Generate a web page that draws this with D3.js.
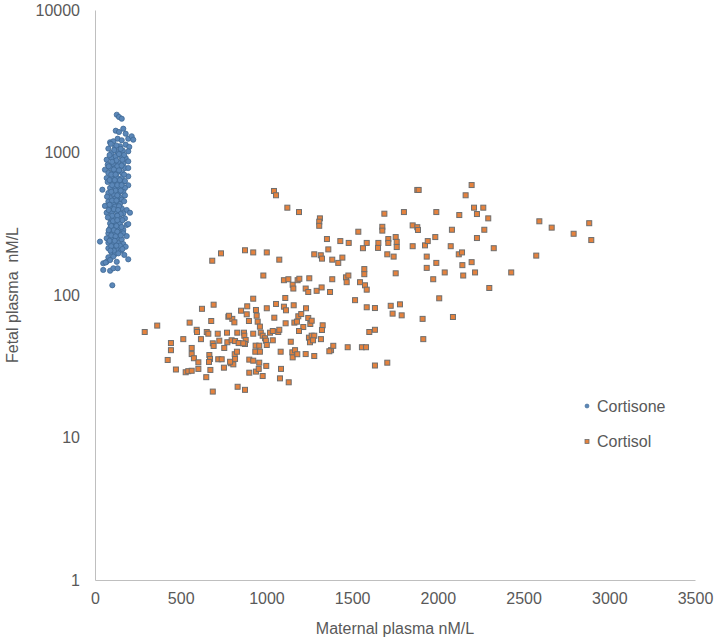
<!DOCTYPE html>
<html>
<head>
<meta charset="utf-8">
<script src="https://cdn.jsdelivr.net/npm/d3@7"></script>
<style>
  body { margin: 0; background: #fff; }
  text { font-family: "Liberation Sans", Arial, sans-serif; }
</style>
</head>
<body>
<div class="chart"></div>
<script>
// cortisone (blue circles)
const cortisoneX = [127,140,156,121,140,165,179,194,214,223,88,107,132,156,78,117,146,179,200,97,
  132,162,194,68,97,121,152,179,194,74,107,136,165,58,88,117,146,175,194,78,
  107,132,159,68,97,127,156,194,194,74,101,132,165,43,88,117,146,175,78,107,
  136,165,88,117,146,156,
  78,107,132,146,58,88,117,156,185,204,68,97,127,165,88,117,146,175,88,117,
  146,185,194,88,117,140,165,78,107,136,165,185,68,97,127,156,29,78,107,136,
  165,179,78,107,136,152,97,117,136,171,78,107,127,194,68,88,48,62,48,88,
  107,132,101,
  92,125,150,112,85,140,170,125,100,160,80,130,155,110,140,95,120,170,85,145,
  115,175,100,130,155,120,95,150,175,70,130,100,125,170,85,140,110,135,80,150,
  100,130,75,160,105,130,95,125,155,110,80,130,150,95,120,85,115,145,95,125,
  110,160,90];
const cortisoneY = [1841,1775,1726,1422,1393,1469,1355,1250,1300,1230,1180,1199,1250,1218,1065,1089,1106,1135,1094,991,
  1009,1031,1019,890,914,940,940,914,867,821,830,857,843,757,778,778,787,778,778,718,
  718,729,718,662,673,670,662,680,589,621,621,611,621,548,564,570,564,564,520,512,
  520,528,480,474,485,467,
  452,440,452,436,422,413,417,406,395,378,378,378,384,374,345,351,345,345,318,321,
  318,310,315,294,299,289,286,271,274,268,271,259,250,252,250,246,237,233,233,231,
  228,218,213,213,209,205,198,194,196,191,184,186,171,178,171,176,167,169,150,148,
  154,154,117,
  1150,1120,1060,1040,960,975,960,880,860,890,800,800,810,760,750,700,700,700,640,640,
  640,630,590,590,590,540,530,540,500,490,500,460,460,455,430,420,400,395,395,370,
  360,360,350,335,330,335,305,305,300,285,285,278,262,262,258,240,240,222,220,222,
  205,210,205];

// cortisol (orange squares)
const cortisolX = [1044,1056,1122,1190,1312,1308,1308,1880,1888,1688,
  1802,1536,1676,1676,1853,1880,1884,1353,1431,1480,
  1585,1563,1653,1651,1711,1711,1754,1760,1760,1853,
  1925,1941,684,735,875,923,1002,1075,1279,1317,
  1324,1361,1384,1419,1443,1705,1742,1935,1935,982,
  1102,1128,1153,1157,1182,1192,1250,1229,1244,1293,
  1322,1371,1384,1464,1478,1468,1571,1571,1546,1575,
  1585,1754,1517,1585,1633,1725,1779,1736,1789,1911,
  1915,1600,1633,1557,1581,1633,1705,1474,1377,1390,
  290,363,443,443,424,472,515,552,529,544,
  564,564,564,577,603,603,593,595,624,618,
  652,661,649,673,667,671,665,687,692,692,
  678,687,716,725,719,739,752,754,770,772,
  778,801,813,792,807,815,828,817,797,817,
  838,830,832,875,852,885,888,869,871,879,
  875,898,900,923,900,923,923,939,943,939,
  955,949,937,958,935,962,958,967,978,992,
  997,978,999,1002,1002,1021,1037,1037,1046,1056,
  1069,1075,1083,1085,1079,1102,1114,1110,1112,1130,
  1142,1151,1153,1167,1159,1163,1178,1186,1203,1215,
  1231,1244,1256,1264,1229,1279,1248,1264,1279,1254,
  1272,1318,1328,1324,
  2197,2162,1991,2125,2211,2265,2228,2294,2082,2271,
  1985,2228,2075,2122,2141,2326,1991,2143,2197,2040,
  2148,2217,1973,2428,2300,2008,2088,2592,2664,2792,
  2883,2895,2574,
  962,1190,782,1180,788,865,1367];
const cortisolY = [537,501,410,382,345,327,306,546,546,372,
  382,278,301,283,308,299,286,247,239,232,
  232,213,232,214,247,232,255,236,217,220,
  223,239,174,196,206,199,199,177,193,190,
  180,209,177,168,183,193,186,186,155,137,
  127,129,118,111,127,130,131,111,105,107,
  113,105,129,133,137,123,152,140,123,117,
  109,142,92,82,81,84,86,74,72,68,
  49,55,57,43,43,32,33.5,43,41,44,
  55,61,46,41,35,30,49,64,28.7,29.2,
  29.4,42.5,38.5,36,33.7,30.3,57,55,80,49,
  55,53.5,26.5,29.8,37.9,35.6,33.9,45.8,43.9,85.5,
  65.7,21,53.5,47.8,35.4,35.4,30.9,42.5,54.4,46.6,
  70.4,68,64.3,33.2,32.6,38.4,40,35.6,48.1,47.5,
  46,54.4,22.7,21.6,77.6,73.2,83.3,54.4,51.8,48.3,
  45.3,65.7,35.2,34.6,28.5,94.2,53.5,78.5,71.6,29,
  30.3,65,44.1,44.1,40,40,33.5,54.4,51.8,49.7,
  47.8,27,31.8,80.7,44.6,54.4,55.9,48.1,69.3,86.5,
  55,57,40,30.3,26,82.8,78.1,95.3,63.3,24.4,
  47,39.6,36.5,41,84.7,64,65,70.9,73.5,59.6,
  80.7,69,62.6,66,38.5,37.3,50.2,51.8,51.8,46.6,
  48.1,49,61.3,56.8,
  591,501,382,364,410,410,370,345,287,287,
  255,251,220,193,199,213,168,162,170,144,
  137,144,129,144,112,94.8,70.1,329,297,269,
  319,243,189,
  60,55.9,71.5,38.4,34,45.8,40.3];

const xTicks = [0,500,1000,1500,2000,2500,3000,3500];
const yTicks = [1,10,100,1000,10000];
const seriesNames = ['Cortisone','Cortisol'];

const width = 715, height = 638;
const margin = {left: 95, right: 20, top: 10, bottom: 58};

const svg = d3.select('.chart').append('svg')
  .attr('width', width)
  .attr('height', height);

const x = d3.scaleLinear().domain([0,3500]).range([margin.left, width - margin.right]);
const y = d3.scaleLog().domain([1,10000]).range([height - margin.bottom, margin.top]);

const textColor = '#595959';
const axisColor = '#bfbfbf';

// axes
const xAxis = svg.append('g')
  .attr('transform', `translate(0,${y(1)})`)
  .call(d3.axisBottom(x).tickValues(xTicks).tickSize(0).tickPadding(13).tickFormat(d3.format('d')));
const yAxis = svg.append('g')
  .attr('transform', `translate(${x(0)},0)`)
  .call(d3.axisLeft(y).tickValues(yTicks).tickSize(0).tickPadding(15).tickFormat(d3.format('d')));

[xAxis, yAxis].forEach(g => {
  g.select('.domain').attr('stroke', axisColor).attr('stroke-width', 1);
  g.selectAll('text').attr('fill', textColor).style('font-size', '16px')
    .style('font-family', '"Liberation Sans", Arial, sans-serif');
});

// axis titles
svg.append('text')
  .attr('x', (x(0) + x(3500)) / 2)
  .attr('y', 634)
  .attr('text-anchor', 'middle')
  .attr('fill', textColor)
  .style('font-size', '16px')
  .text('Maternal plasma nM/L');

svg.append('text')
  .attr('transform', `translate(18,${(y(1) + y(10000)) / 2}) rotate(-90)`)
  .attr('text-anchor', 'middle')
  .attr('fill', textColor)
  .style('font-size', '16px')
  .style('white-space', 'pre')
  .text('Fetal plasma  nM/L');

// points
const cortisone = d3.zip(cortisoneX, cortisoneY);
const cortisol = d3.zip(cortisolX, cortisolY);

svg.append('g').selectAll('circle')
  .data(cortisone)
  .enter()
  .append('circle')
  .attr('cx', d => x(d[0]))
  .attr('cy', d => y(d[1]))
  .attr('r', 2.6)
  .attr('fill', '#5b87b8')
  .attr('stroke', '#3f6894')
  .attr('stroke-width', 0.8);

const sq = 5;
svg.append('g').selectAll('rect')
  .data(cortisol)
  .enter()
  .append('rect')
  .attr('x', d => x(d[0]) - sq / 2)
  .attr('y', d => y(d[1]) - sq / 2)
  .attr('width', sq)
  .attr('height', sq)
  .attr('fill', '#e5823d')
  .attr('stroke', '#6e6e6e')
  .attr('stroke-width', 1);

// legend
const legend = svg.append('g');
legend.append('circle')
  .attr('cx', 587).attr('cy', 406).attr('r', 2)
  .attr('fill', '#5b87b8').attr('stroke', '#3f6894').attr('stroke-width', 0.6);
legend.append('rect')
  .attr('x', 585).attr('y', 439.5).attr('width', 4).attr('height', 4)
  .attr('fill', '#e5823d').attr('stroke', '#6e6e6e').attr('stroke-width', 0.8);
legend.selectAll('text')
  .data(seriesNames)
  .enter()
  .append('text')
  .attr('x', 597)
  .attr('y', (d, i) => 406 + i * 35.5)
  .attr('dy', '0.35em')
  .attr('fill', textColor)
  .style('font-size', '16px')
  .text(d => d);
</script>
</body>
</html>
